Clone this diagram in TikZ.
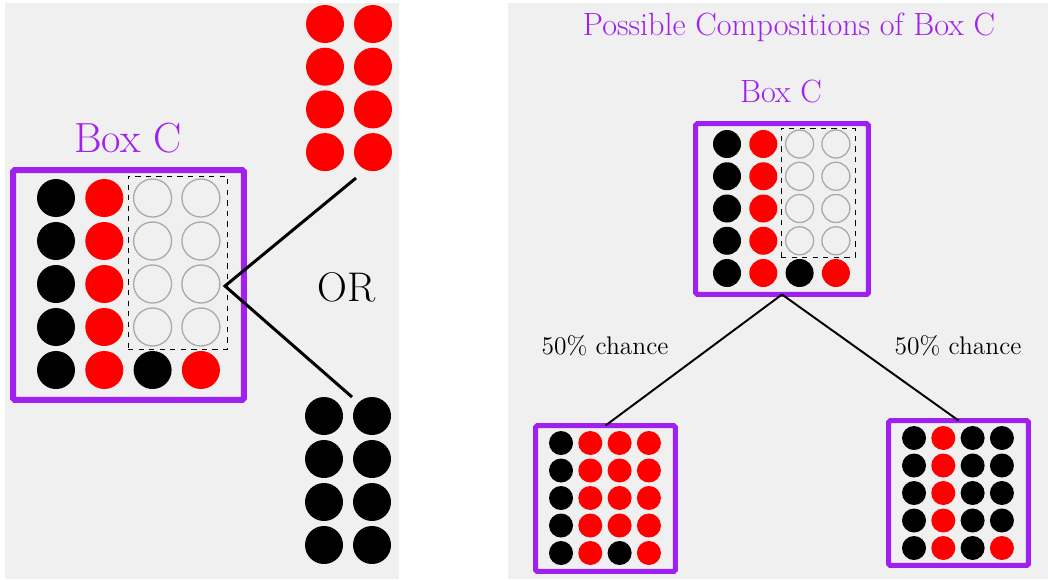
\documentclass[tikz,border=0pt]{standalone}
\usepackage{tikz}
\usetikzlibrary{positioning}

\definecolor{boxpurple}{RGB}{160,32,240}
\definecolor{panelgray}{RGB}{240,240,240}
\definecolor{emptygray}{RGB}{170,170,170}

\tikzset{
    panel/.style={fill=panelgray},
    boxframe/.style={draw=boxpurple, rounded corners=1pt, inner sep=0pt, outer sep=0pt},
    unknownbox/.style={draw, dashed, line width=0.5pt, inner sep=0pt, outer sep=0pt},
    bk/.style={fill=black},
    rd/.style={fill=red},
    em/.style={draw=emptygray, line width=0.75pt},
    branch/.style={line width=1.7pt},
    treeline/.style={line width=1.1pt},
}

% x0, dx, y0, dy, radius, rows of ball styles
\newcommand{\ballgrid}[6]{%
    \foreach \rowlist [count=\j from 0] in {#6} {
        \foreach \c [count=\i from 0] in \rowlist {
            \path[\c] ({#1+\i*#2},{#3+\j*#4}) circle[radius=#5];
        }
    }
}

\begin{document}
\begin{tikzpicture}[x=0.02cm, y=-0.02cm]
    \useasboundingbox (0,0) rectangle (1048,579);
    \fill[panel] (5,3)   rectangle (399,579);
    \fill[panel] (508,3) rectangle (1048,579);

    % left: box C and the two ways to fill it
    \node[anchor=base, text=boxpurple, font=\fontsize{24}{28}\selectfont] (labelC) at (128,152) {Box C};
    \node[boxframe, line width=0.12cm, minimum width=4.62cm, minimum height=4.6cm] (boxC) at (128.5,285) {};
    \ballgrid{56}{48.3}{198}{43}{19}{{bk,rd,em,em},{bk,rd,em,em},{bk,rd,em,em},{bk,rd,em,em},{bk,rd,bk,rd}}
    \node[unknownbox, minimum width=1.98cm, minimum height=3.46cm] (unknownC) at (177.5,262.5) {};

    \ballgrid{325}{48}{24}{42.7}{19}{{rd,rd},{rd,rd},{rd,rd},{rd,rd}}
    \ballgrid{324}{48}{416}{43}{19}{{bk,bk},{bk,bk},{bk,bk},{bk,bk}}

    \coordinate (fork)     at (225,286);
    \coordinate (redend)   at (356,178);
    \coordinate (blackend) at (352,397);
    \draw[branch] (redend) -- (fork) -- (blackend);
    \node[anchor=base, font=\fontsize{23.6}{28}\selectfont] (labelOr) at (347,301) {OR};

    % right: possible compositions
    \node[anchor=base, text=boxpurple, font=\fontsize{18.3}{22}\selectfont] (title) at (789,35) {Possible Compositions of Box C};
    \node[anchor=base, text=boxpurple, font=\fontsize{18.3}{22}\selectfont] (labelC2) at (781,102) {Box C};

    \node[boxframe, line width=0.1cm, minimum width=3.46cm, minimum height=3.42cm] (boxC2) at (782,209) {};
    \ballgrid{727}{36.3}{144}{32.25}{14}{{bk,rd,em,em},{bk,rd,em,em},{bk,rd,em,em},{bk,rd,em,em},{bk,rd,bk,rd}}
    \node[unknownbox, minimum width=1.48cm, minimum height=2.58cm] (unknownC2) at (818,192.5) {};

    \node[boxframe, line width=0.1cm, minimum width=2.8cm, minimum height=2.92cm] (moreRed) at (605.5,498.5) {};
    \ballgrid{561}{29.3}{443}{27.5}{12}{{bk,rd,rd,rd},{bk,rd,rd,rd},{bk,rd,rd,rd},{bk,rd,rd,rd},{bk,rd,bk,rd}}

    \node[boxframe, line width=0.1cm, minimum width=2.8cm, minimum height=2.9cm] (moreBlack) at (958.5,493) {};
    \ballgrid{914}{29.3}{438}{27.5}{12}{{bk,rd,bk,bk},{bk,rd,bk,bk},{bk,rd,bk,bk},{bk,rd,bk,bk},{bk,rd,bk,rd}}

    \draw[treeline] (boxC2.south) -- (moreRed.north);
    \draw[treeline] (boxC2.south) -- (moreBlack.north);
    \node[anchor=base, font=\fontsize{14.5}{17}\selectfont] (chanceL) at (605,354) {50\% chance};
    \node[anchor=base, font=\fontsize{14.5}{17}\selectfont] (chanceR) at (958,354) {50\% chance};
\end{tikzpicture}
\end{document}
